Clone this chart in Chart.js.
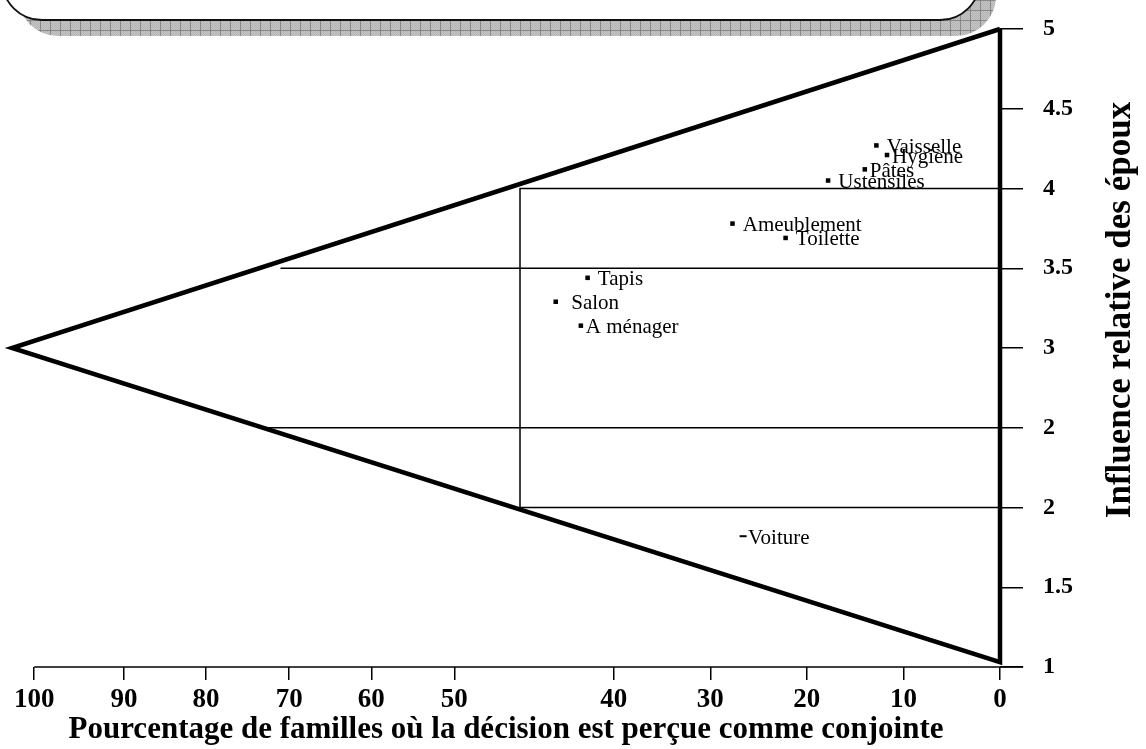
<!DOCTYPE html>
<html>
<head>
<meta charset="utf-8">
<script src="https://cdn.jsdelivr.net/npm/chart.js@4.4.1/dist/chart.umd.min.js"></script>
<style>
  html, body { margin: 0; padding: 0; background: #fff; }
</style>
</head>
<body>
<canvas id="chart" width="1146" height="749"></canvas>
<script>
// products : % of families where the decision is joint (x) and relative influence (y)
var productNames = [' Vaisselle', 'Hygiène', 'Pâtes', ' Ustensiles', ' Ameublement', ' Toilette', ' Tapis', '  Salon', 'A ménager', 'Voiture'];
var jointPct = [12.8, 11.7, 14.0, 17.8, 27.7, 22.2, 42.7, 46.0, 43.4, 26.6];
var influence = [4.27, 4.21, 4.12, 4.05, 3.78, 3.69, 3.44, 3.29, 3.14, 1.82];

// ticks (the x labels of the original figure are not evenly spaced)
var xTickAt = [0, 10, 20, 30, 40, 56.5, 65.1, 73.6, 82.2, 90.7, 100];
var xTickText = ['0', '10', '20', '30', '40', '50', '60', '70', '80', '90', '100'];
var yTickAt = [1, 1.5, 2, 2.5, 3, 3.5, 4, 4.5, 5];
var yTickText = ['1', '1.5', '2', '2', '3', '3.5', '4', '4.5', '5'];

// triangle, central zone and the two intermediate levels
var triX = [0, 102.3, 0, 0];
var triY = [5, 3, 1.03, 5];
var zoneX = [0, 49.7, 49.7, 0];
var zoneY = [4, 4, 2, 2];
var levelY = [3.5, 2.5];
var levelFrom = [74.5, 76];

var SERIF = '"Liberation Serif", "Times New Roman", serif';

function pts(xs, ys) {
    return xs.map(function (x, i) { return {x: x, y: ys[i]}; });
}

function lineSet(data, width) {
    return {
        data: data,
        showLine: true,
        borderColor: '#000',
        borderWidth: width,
        borderJoinStyle: 'miter',
        pointRadius: 0,
        tension: 0,
        fill: false,
        clip: false
    };
}

var datasets = [];
datasets.push(lineSet(pts(triX, triY), 4.5));
datasets.push(lineSet(pts(zoneX, zoneY), 1.5));
levelY.forEach(function (y, i) {
    datasets.push(lineSet([{x: levelFrom[i], y: y}, {x: 0, y: y}], 1.5));
});
// x axis line, runs past the right edge like the y ticks
datasets.push(lineSet([{x: 100, y: 1}, {x: -2.4, y: 1}], 1.5));

var isCar = function (ctx) { return productNames[ctx.dataIndex] === 'Voiture'; };
datasets.push({
    data: pts(jointPct, influence),
    pointStyle: function (ctx) { return isCar(ctx) ? 'line' : 'rect'; },
    pointRadius: function (ctx) { return isCar(ctx) ? 3.5 : 3.2; },
    pointBorderWidth: function (ctx) { return isCar(ctx) ? 2 : 0; },
    pointBackgroundColor: '#000',
    pointBorderColor: '#000',
    showLine: false,
    clip: false
});
var productIndex = datasets.length - 1;

// rounded box with hatched shadow, cut by the top of the picture
var decor = {
    id: 'decor',
    beforeDraw: function (chart) {
        var ctx = chart.ctx;
        var tile = document.createElement('canvas');
        tile.width = 10; tile.height = 10;
        var t = tile.getContext('2d');
        t.fillStyle = '#c6c6c6';
        t.fillRect(0, 0, 10, 10);
        t.fillStyle = '#b4b4b4';
        for (var i = 0; i < 10; i++) {
            for (var j = (i % 2); j < 10; j += 2) t.fillRect(j, i, 1, 1);
        }
        t.fillStyle = '#888';
        t.fillRect(0, 0, 10, 1);
        t.fillRect(0, 0, 1, 10);

        function box(dx, dy) {
            ctx.beginPath();
            ctx.roundRect(2 + dx, -100 + dy, 978, 120, 40);
        }
        ctx.save();
        box(16, 16);
        ctx.fillStyle = ctx.createPattern(tile, 'repeat');
        ctx.fill();
        box(0, 0);
        ctx.fillStyle = '#fff';
        ctx.fill();
        ctx.lineWidth = 1.8;
        ctx.strokeStyle = '#111';
        ctx.stroke();
        ctx.restore();
    }
};

var pointLabels = {
    id: 'pointLabels',
    afterDatasetsDraw: function (chart) {
        var ctx = chart.ctx;
        var meta = chart.getDatasetMeta(productIndex);
        ctx.save();
        ctx.font = '21px ' + SERIF;
        ctx.fillStyle = '#000';
        ctx.textAlign = 'left';
        ctx.textBaseline = 'middle';
        meta.data.forEach(function (el, i) {
            ctx.fillText(productNames[i], el.x + 5, el.y + 2);
        });
        ctx.restore();
    }
};

// vertical title, reading upwards
var yTitle = {
    id: 'yTitle',
    afterDraw: function (chart) {
        var ctx = chart.ctx;
        ctx.save();
        ctx.translate(1121, 310);
        ctx.rotate(-Math.PI / 2);
        ctx.font = 'bold 35px ' + SERIF;
        ctx.fillStyle = '#000';
        ctx.textAlign = 'center';
        ctx.textBaseline = 'middle';
        ctx.fillText('Influence relative des époux', 0, 0);
        ctx.restore();
    }
};

new Chart(document.getElementById('chart'), {
    type: 'scatter',
    data: {datasets: datasets},
    options: {
        responsive: false,
        animation: false,
        devicePixelRatio: 1,
        layout: {padding: {left: 12, top: 29, right: 0, bottom: 0}},
        plugins: {legend: {display: false}, tooltip: {enabled: false}},
        scales: {
            x: {
                type: 'linear',
                position: 'bottom',
                reverse: true,
                min: 0,
                max: 102.3,
                afterBuildTicks: function (s) { s.ticks = xTickAt.map(function (v) { return {value: v}; }); },
                afterFit: function (s) { s.height = 82; s.paddingLeft = 0; s.paddingRight = 0; },
                grid: {drawOnChartArea: false, tickLength: 13, color: '#000', lineWidth: 1.5},
                border: {display: false},
                ticks: {
                    autoSkip: false,
                    maxRotation: 0,
                    padding: 4,
                    color: '#000',
                    font: {family: SERIF, size: 27, weight: 'bold'},
                    callback: function (v, i) { return xTickText[i]; }
                },
                title: {
                    display: true,
                    text: 'Pourcentage de familles où la décision est perçue comme conjointe',
                    color: '#000',
                    font: {family: SERIF, size: 31, weight: 'bold'},
                    padding: {top: 0, bottom: 0}
                }
            },
            y: {
                type: 'linear',
                position: 'right',
                min: 1,
                max: 5,
                afterBuildTicks: function (s) { s.ticks = yTickAt.map(function (v) { return {value: v}; }); },
                // fixed width, and no extra top room from the label padding
                afterFit: function (s) { s.width = 146; s.paddingTop = 0; s.paddingBottom = 0; },
                grid: {drawOnChartArea: false, tickLength: 23, color: '#000', lineWidth: 1.5},
                border: {display: false},
                ticks: {
                    autoSkip: false,
                    padding: 20,
                    color: '#000',
                    font: {family: SERIF, size: 24, weight: 'bold'},
                    callback: function (v, i) { return yTickText[i]; }
                }
            }
        }
    },
    plugins: [decor, pointLabels, yTitle]
});
</script>
</body>
</html>
